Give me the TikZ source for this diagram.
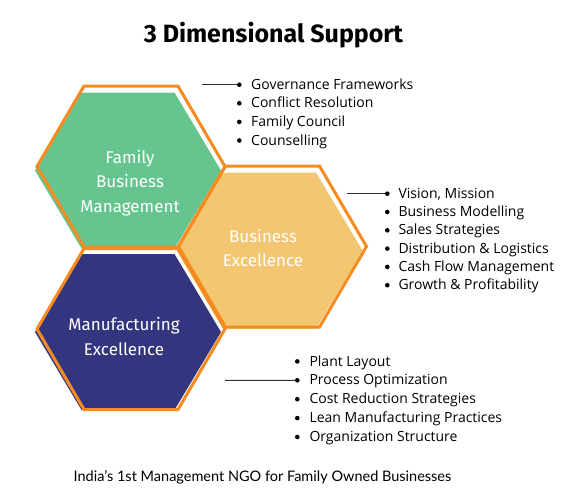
\documentclass[tikz,border=0pt]{standalone}
\usepackage{fontspec}
\setmainfont{Open Sans}
\newfontfamily\hexfont{Fira Sans}
\newfontfamily\footfont{Lato}
\definecolor{hexorange}{HTML}{F68B1F}
\definecolor{hexgreen}{HTML}{66C58E}
\definecolor{hexyellow}{HTML}{F3C672}
\definecolor{hexblue}{HTML}{33357E}
\definecolor{linegray}{HTML}{333333}
\newcommand{\hexpath}[4]{(#1+#3,#2) -- (#1+#3/2,#2-#4) -- (#1-#3/2,#2-#4) -- (#1-#3,#2) -- (#1-#3/2,#2+#4) -- (#1+#3/2,#2+#4) -- cycle}
\tikzset{
  hexline/.style={draw=hexorange,line width=3pt,line join=miter},
  bul/.style={circle,fill=black,inner sep=0pt,minimum size=4.6pt},
  itemtext/.style={anchor=base west,inner sep=0pt,font=\fontsize{14}{16}\selectfont},
  hexlabel/.style={text=white,align=center,inner sep=0pt,font=\hexfont\fontsize{17}{24.5}\selectfont},
  connector/.style={draw=linegray,line width=1.1pt}
}
\begin{document}
\begin{tikzpicture}[x=1pt,y=-1pt]
\useasboundingbox[fill=white] (0,0) rectangle (576,501);
% fills
\fill[hexgreen] \hexpath{128}{170.5}{93}{78};
\fill[hexyellow] \hexpath{269.5}{250.5}{93}{78};
\fill[hexblue] \hexpath{128}{332}{93}{78};
% outlines
\draw[hexline] \hexpath{131}{166.5}{94}{80.5};
\draw[hexline] \hexpath{272.5}{246.5}{94}{80.5};
\draw[hexline] \hexpath{131}{329}{94}{80.5};
% labels
\node[hexlabel] (fbm) at (130,183) {Family\\Business\\Management};
\node[hexlabel] (be) at (263,248) {Business\\Excellence};
\node[hexlabel] (me) at (124,336.5) {Manufacturing\\Excellence};
% title
\node[inner sep=0pt,font=\hexfont\bfseries\fontsize{25}{30}\selectfont] (title) at (273.5,35) {3 Dimensional Support};
% list 1
\foreach \t [count=\i] in {Governance Frameworks,Conflict Resolution,Family Council,Counselling}{
  \node[bul] (a\i) at (239.3,{89.3+18.6*(\i-1)-4.6}) {};
  \node[itemtext] (ta\i) at (251,{89.3+18.6*(\i-1)}) {\t};
}
% list 2
\foreach \t [count=\i] in {{Vision, Mission},Business Modelling,Sales Strategies,Distribution \& Logistics,Cash Flow Management,Growth \& Profitability}{
  \node[bul] (b\i) at (387.3,{198.3+18.3*(\i-1)-4.6}) {};
  \node[itemtext] (tb\i) at (398.3,{198.3+18.3*(\i-1)}) {\t};
}
% list 3
\foreach \t [count=\i] in {Plant Layout,Process Optimization,Cost Reduction Strategies,Lean Manufacturing Practices,Organization Structure}{
  \node[bul] (c\i) at (297.3,{366+18.9*(\i-1)-4.6}) {};
  \node[itemtext] (tc\i) at (309.3,{366+18.9*(\i-1)}) {\t};
}
% connectors
\coordinate (sa) at (201.7,84.7);
\coordinate (sb) at (347.3,193.7);
\coordinate (sc) at (225,380.3);
\draw[connector] (sa) -- (a1);
\draw[connector] (sb) -- (b1);
\draw[connector] (sc) -- (c2);
% footer
\node[inner sep=0pt,font=\footfont\fontsize{14.5}{17}\selectfont] (foot) at (262.5,477) {India’s 1st Management NGO for Family Owned Businesses};
\end{tikzpicture}
\end{document}
